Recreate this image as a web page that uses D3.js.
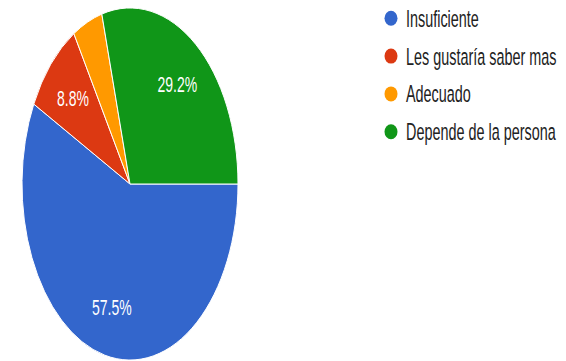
<!DOCTYPE html>
<html>
<head>
<meta charset="utf-8">
<script src="https://cdn.jsdelivr.net/npm/d3@7"></script>
<style>
  html, body { margin: 0; padding: 0; background: #ffffff; }
  svg { display: block; }
  text { font-family: "Liberation Sans", Arial, sans-serif; }
</style>
</head>
<body>
<svg id="chart" width="566" height="361"></svg>
<script>
// Survey answers and their shares (percent)
const categories = ["Insuficiente", "Les gustaría saber mas", "Adecuado", "Depende de la persona"];
const values = [57.5, 8.8, 4.5, 29.2];
const colors = ["#3366cc", "#dc3912", "#ff9900", "#109618"];
const shownLabels = ["57.5%", "8.8%", "", "29.2%"];

const W = 566, H = 361;
const stretchY = 1.63;            // the whole chart is drawn tall
const cx = 130, cy = 184 / stretchY;
const radius = 108;

const svg = d3.select("#chart");
const root = svg.append("g").attr("transform", `scale(1, ${stretchY})`);

const pie = d3.pie()
  .sort(null)
  .value(d => d.value)
  .startAngle(Math.PI / 2)
  .endAngle(Math.PI / 2 + 2 * Math.PI);

const data = categories.map((c, i) => ({ name: c, value: values[i], color: colors[i], label: shownLabels[i] }));
const arcs = pie(data);

const arc = d3.arc().innerRadius(0).outerRadius(radius);
const labelArc = d3.arc().innerRadius(radius * 0.72).outerRadius(radius * 0.72);

const pieG = root.append("g").attr("transform", `translate(${cx},${cy})`);

pieG.selectAll("path")
  .data(arcs)
  .join("path")
  .attr("d", arc)
  .attr("fill", d => d.data.color)
  .attr("stroke", "#ffffff")
  .attr("stroke-width", 1)
  .attr("vector-effect", "non-scaling-stroke");

pieG.selectAll("text")
  .data(arcs.filter(d => d.data.label))
  .join("text")
  .attr("transform", d => `translate(${labelArc.centroid(d)})`)
  .attr("text-anchor", "middle")
  .attr("dy", "0.36em")
  .attr("fill", "#ffffff")
  .attr("font-size", 14)
  .text(d => d.data.label);

// Legend
const legendY = d3.scalePoint()
  .domain(categories)
  .range([11.2, 80.8]);

const legend = root.append("g");
const items = legend.selectAll("g")
  .data(data)
  .join("g")
  .attr("transform", d => `translate(391,${legendY(d.name)})`);

items.append("ellipse")
  .attr("rx", 6.5)
  .attr("ry", 7.5 / stretchY)
  .attr("fill", d => d.color);

items.append("text")
  .attr("x", 15)
  .attr("dy", "0.36em")
  .attr("font-size", 14.4)
  .attr("fill", "#222222")
  .text(d => d.name);
</script>
</body>
</html>
